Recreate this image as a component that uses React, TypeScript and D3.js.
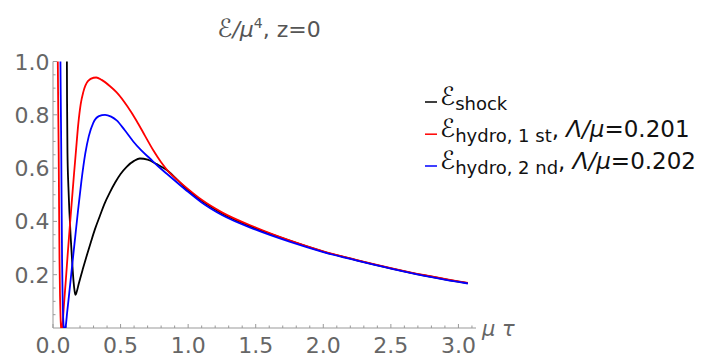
import * as d3 from 'd3'

// values
const shockTau = [0.098, 0.102, 0.104, 0.107, 0.114, 0.121, 0.131, 0.141, 0.152, 0.16, 0.166, 0.175, 0.19, 0.22, 0.25, 0.28, 0.31, 0.348, 0.38, 0.42, 0.46, 0.5, 0.545, 0.6, 0.643, 0.7, 0.767, 0.853, 0.92, 1.0, 1.1, 1.25, 1.5, 1.75, 2.0, 2.25, 2.5, 2.75, 3.0, 3.07]
const shockE = [1.3, 1.1, 0.85, 0.66, 0.53, 0.44, 0.34, 0.255, 0.175, 0.138, 0.124, 0.135, 0.165, 0.22, 0.272, 0.322, 0.37, 0.422, 0.465, 0.508, 0.546, 0.578, 0.605, 0.627, 0.636, 0.632, 0.615, 0.588, 0.556, 0.517, 0.477, 0.43, 0.374, 0.328, 0.287, 0.254, 0.224, 0.197, 0.174, 0.168]

const hydro1Tau = [0.031, 0.0335, 0.0355, 0.0385, 0.042, 0.045, 0.048, 0.052, 0.056, 0.061, 0.066, 0.072, 0.08, 0.095, 0.11, 0.125, 0.14, 0.155, 0.17, 0.187, 0.205, 0.224, 0.26, 0.3, 0.32, 0.36, 0.42, 0.471, 0.55, 0.619, 0.68, 0.742, 0.8, 0.853, 0.92, 1.0, 1.1, 1.25, 1.5, 1.75, 2.0, 2.25, 2.5, 2.75, 3.0, 3.07]
const hydro1E = [1.3, 1.12, 1.0, 0.83, 0.66, 0.45, 0.26, 0.12, 0.04, -0.005, -0.015, 0.02, 0.08, 0.18, 0.285, 0.385, 0.48, 0.575, 0.665, 0.765, 0.84, 0.885, 0.927, 0.939, 0.94, 0.931, 0.908, 0.884, 0.832, 0.777, 0.722, 0.667, 0.622, 0.588, 0.556, 0.521, 0.481, 0.434, 0.377, 0.329, 0.288, 0.255, 0.225, 0.198, 0.175, 0.169]

const hydro2Tau = [0.051, 0.053, 0.055, 0.058, 0.061, 0.064, 0.067, 0.071, 0.076, 0.082, 0.088, 0.095, 0.105, 0.12, 0.146, 0.165, 0.185, 0.21, 0.239, 0.265, 0.298, 0.34, 0.385, 0.43, 0.471, 0.53, 0.594, 0.65, 0.717, 0.78, 0.853, 0.92, 1.0, 1.1, 1.25, 1.5, 1.75, 2.0, 2.25, 2.5, 2.75, 3.0, 3.07]
const hydro2E = [1.3, 1.15, 1.0, 0.83, 0.67, 0.45, 0.26, 0.12, 0.03, -0.005, -0.01, 0.01, 0.06, 0.13, 0.255, 0.345, 0.44, 0.55, 0.655, 0.72, 0.77, 0.795, 0.8, 0.793, 0.779, 0.743, 0.7, 0.668, 0.636, 0.606, 0.574, 0.545, 0.511, 0.471, 0.424, 0.369, 0.324, 0.285, 0.253, 0.223, 0.196, 0.173, 0.167]

const xTicks = [0, 0.5, 1.0, 1.5, 2.0, 2.5, 3.0]
const xTickLabels = ['0.0', '0.5', '1.0', '1.5', '2.0', '2.5', '3.0']
const yTicks = [0.2, 0.4, 0.6, 0.8, 1.0]
const yTickLabels = ['0.2', '0.4', '0.6', '0.8', '1.0']

const W = 703
const H = 358
const axisColor = '#999'
const labelColor = '#666'
const font = '"DejaVu Sans", Verdana, sans-serif'

export default function App() {
  const x = d3.scaleLinear().domain([0, 3.13]).range([53, 476])
  const y = d3.scaleLinear().domain([0, 1]).range([328, 61.5])

  const line = d3
    .line<[number, number]>()
    .x(d => x(d[0]))
    .y(d => y(d[1]))
    .curve(d3.curveMonotoneX)

  const series = [
    { tau: shockTau, e: shockE, color: '#000' },
    { tau: hydro1Tau, e: hydro1E, color: '#ff0000' },
    { tau: hydro2Tau, e: hydro2E, color: '#0000ff' }
  ]

  const xMinor = d3.range(0, 3.11, 0.1).filter(v => Math.abs(v / 0.5 - Math.round(v / 0.5)) > 1e-6)
  const yMinor = d3.range(0.05, 1.001, 0.05).filter(v => Math.abs(v / 0.2 - Math.round(v / 0.2)) > 1e-6)

  const legendX = 425
  const legendRows = [104.5, 136.7, 168.5]

  return (
    <div style={{ position: 'absolute', left: 0, top: 0 }}>
      <svg width={W} height={H} style={{ display: 'block', background: '#fff' }}>
        <defs>
          <clipPath id="plot">
            <rect x={x(0)} y={y(1)} width={x(3.13) - x(0)} height={y(0) - y(1)} />
          </clipPath>
        </defs>

        {/* title */}
        <text x={269} y={37} textAnchor="middle" fontFamily={font} fontSize={22} fill="#555">
          <tspan fontSize={25}>ℰ</tspan>
          <tspan fontStyle="italic">/μ</tspan>
          <tspan fontSize={14} dy={-9}>4</tspan>
          <tspan dy={9}>, z=0</tspan>
        </text>

        {/* axes */}
        <line x1={x(0)} x2={x(3.13)} y1={y(0)} y2={y(0)} stroke={axisColor} strokeWidth={1} />
        <line x1={x(0)} x2={x(0)} y1={y(0)} y2={y(1)} stroke={axisColor} strokeWidth={1} />
        {xTicks.map(t => (
          <line key={'xt' + t} x1={x(t)} x2={x(t)} y1={y(0)} y2={y(0) - 4} stroke={axisColor} />
        ))}
        {xMinor.map(t => (
          <line key={'xm' + t} x1={x(t)} x2={x(t)} y1={y(0)} y2={y(0) - 2.5} stroke={axisColor} />
        ))}
        {yTicks.map(t => (
          <line key={'yt' + t} x1={x(0)} x2={x(0) + 4} y1={y(t)} y2={y(t)} stroke={axisColor} />
        ))}
        {yMinor.map(t => (
          <line key={'ym' + t} x1={x(0)} x2={x(0) + 2.5} y1={y(t)} y2={y(t)} stroke={axisColor} />
        ))}
        {xTicks.map((t, i) => (
          <text key={'xl' + t} x={x(t)} y={353} textAnchor="middle" fontFamily={font} fontSize={22} fill={labelColor}>
            {xTickLabels[i]}
          </text>
        ))}
        {yTicks.map((t, i) => (
          <text key={'yl' + t} x={49.5} y={y(t) + 8} textAnchor="end" fontFamily={font} fontSize={22} fill={labelColor}>
            {yTickLabels[i]}
          </text>
        ))}
        <text x={482} y={336} fontFamily={font} fontSize={21} fontStyle="italic" fill={labelColor}>
          μ τ
        </text>

        {/* curves */}
        <g clipPath="url(#plot)">
          {series.map((s, i) => (
            <path
              key={i}
              d={line(s.tau.map((t, j) => [t, s.e[j]] as [number, number])) || ''}
              fill="none"
              stroke={s.color}
              strokeWidth={1.8}
            />
          ))}
        </g>

        {/* legend */}
        <g fontFamily={font} fill="#111">
          {series.map((s, i) => (
            <line key={'lg' + i} x1={legendX} x2={legendX + 12} y1={legendRows[i] - 2.5} y2={legendRows[i] - 2.5} stroke={s.color} strokeWidth={1.5} />
          ))}
          <text x={legendX + 15} y={legendRows[0]} fontSize={23}>
            <tspan fontSize={25}>ℰ</tspan>
            <tspan fontSize={18} dy={5}>shock</tspan>
          </text>
          <text x={legendX + 15} y={legendRows[1]} fontSize={23}>
            <tspan fontSize={25}>ℰ</tspan>
            <tspan fontSize={18} dy={5}>hydro, 1 st</tspan>
            <tspan dy={-5}>, </tspan>
            <tspan fontStyle="italic">Λ/μ</tspan>
            <tspan>=0.201</tspan>
          </text>
          <text x={legendX + 15} y={legendRows[2]} fontSize={23}>
            <tspan fontSize={25}>ℰ</tspan>
            <tspan fontSize={18} dy={5}>hydro, 2 nd</tspan>
            <tspan dy={-5}>, </tspan>
            <tspan fontStyle="italic">Λ/μ</tspan>
            <tspan>=0.202</tspan>
          </text>
        </g>
      </svg>
    </div>
  )
}
